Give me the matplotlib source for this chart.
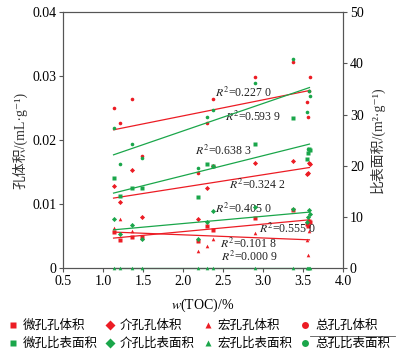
import numpy as np
import matplotlib.pyplot as plt
from matplotlib.lines import Line2D

plt.rcParams['font.family'] = ['Liberation Serif', 'Noto Sans CJK SC', 'DejaVu Serif']
plt.rcParams['mathtext.fontset'] = 'stix'

nan = np.nan

# TOC of the samples, %
toc = [1.13, 1.21, 1.36, 1.49, 2.18, 2.30, 2.37, 2.90, 3.37, 3.55, 3.56, 3.57, 3.59]

# pore volume, mL/g
micro_pv = [0.0056, 0.0044, 0.0049, 0.0049, 0.0043, 0.0066, 0.0060, 0.0078, 0.0091, 0.0069, 0.0066, 0.0074, 0.0072]
meso_pv = [0.0129, 0.0104, 0.0153, 0.0080, 0.0077, 0.0125, 0.0159, 0.0164, 0.0168, 0.0147, 0.0149, 0.0164, 0.0163]
macro_pv = [0.0062, 0.0076, 0.0058, 0.0047, 0.0026, 0.0034, 0.0045, 0.0055, nan, 0.0044, 0.0021, 0.0058, nan]
total_pv = [0.0250, 0.0227, 0.0264, 0.0175, 0.0148, 0.0227, 0.0265, 0.0299, 0.0322, 0.0260, 0.0236, 0.0276, 0.0299]

# specific surface area, m2/g
micro_ssa = [17.6, 14.0, 15.6, 15.7, 13.9, 20.3, 20.0, 24.2, 29.3, 21.4, 22.5, 23.3, 23.0]
meso_ssa = [9.6, 6.6, 8.5, 5.7, 5.7, 9.1, 11.2, 11.9, 11.6, 9.1, 10.0, 11.3, 10.6]
macro_ssa = [0, 0, 0, 0, 0, 0, 0, 0, 0, 0, 0, 0, 0]
total_ssa = [27.3, 20.4, 24.2, 21.5, 19.5, 29.6, 30.8, 36.1, 40.9, 30.5, 23.3, 34.5, 33.6]

# linear trends: slope, intercept
pv_trend_slope = [0.001167, 0.001951, -0.000494, 0.002506]
pv_trend_icpt = [0.003371, 0.008735, 0.006188, 0.01878]
ssa_trend_slope = [3.906, 1.412, 0.0, 5.363]
ssa_trend_icpt = [10.24, 5.884, 0.0, 16.07]
trend_x = [1.13, 3.58]

r2_labels = ['0.227 0', '0.593 9', '0.638 3', '0.324 2', '0.405 0', '0.555 0', '0.101 8', '0.000 9']
r2_x = [2.40, 2.52, 2.15, 2.57, 2.40, 2.95, 2.46, 2.48]
r2_y = [0.0274, 0.0236, 0.0184, 0.01295, 0.0093, 0.0062, 0.0038, 0.0018]

red = '#ec1c24'
green = '#1aa64a'
markers = ['s', 'D', '^', 'o']
pv_series = [micro_pv, meso_pv, macro_pv, total_pv]
ssa_series = [micro_ssa, meso_ssa, macro_ssa, total_ssa]

fig = plt.figure(figsize=(4.05, 3.57), dpi=100)
ax = fig.add_axes([0.156, 0.249, 0.691, 0.717])
ax2 = ax.twinx()

xs = np.array(trend_x)
for vals, m in zip(pv_series, markers):
    ax.plot(toc, vals, ls='none', marker=m, ms=2.6, color=red, mec='none', zorder=3)
for vals, m in zip(ssa_series, markers):
    ax2.plot(toc, vals, ls='none', marker=m, ms=2.6, color=green, mec='none', zorder=3, clip_on=False)
for k, b in zip(pv_trend_slope, pv_trend_icpt):
    ax.plot(xs, k * xs + b, color=red, lw=0.9)
for k, b in zip(ssa_trend_slope, ssa_trend_icpt):
    ax2.plot(xs, k * xs + b, color=green, lw=0.9, clip_on=False)

for lab, x, y in zip(r2_labels, r2_x, r2_y):
    ax.text(x, y, r'$R^2$' + '=' + lab, fontsize=8.5, va='center', ha='left', color='#222222')

ax.set_xlim(0.5, 4.0)
ax.set_ylim(0, 0.04)
ax2.set_ylim(0, 50)
ax.set_xticks(np.arange(0.5, 4.01, 0.5))
ax.set_xticklabels(['0.5', '1.0', '1.5', '2.0', '2.5', '3.0', '3.5', '4.0'])
ax.set_yticks([0, 0.01, 0.02, 0.03, 0.04])
ax.set_yticklabels(['0', '0.01', '0.02', '0.03', '0.04'])
ax2.set_yticks([0, 10, 20, 30, 40, 50])

for a in (ax, ax2):
    for s in a.spines.values():
        s.set_color('#555555')
        s.set_linewidth(0.8)
    a.tick_params(direction='out', length=3, width=0.8, color='#555555', labelsize=10, pad=2)

ax.set_ylabel('孔体积/(mL·g⁻¹)', fontsize=10, labelpad=3, color='#333333')
ax2.set_ylabel('比表面积/(m²·g⁻¹)', fontsize=10, labelpad=4, color='#333333')
ax.set_xlabel(r'$w$(TOC)/%', fontsize=10, labelpad=6)

# legend, 2 rows x 4 columns (matplotlib fills column-wise)
names_pv = ['微孔孔体积', '介孔孔体积', '宏孔孔体积', '总孔孔体积']
names_ssa = ['微孔比表面积', '介孔比表面积', '宏孔比表面积', '总孔比表面积']
handles, labels = [], []
for m, n1, n2 in zip(markers, names_pv, names_ssa):
    handles.append(Line2D([], [], ls='none', marker=m, ms=5, color=red, mec='none'))
    labels.append(n1)
    handles.append(Line2D([], [], ls='none', marker=m, ms=5, color=green, mec='none'))
    labels.append(n2)
fig.legend(handles, labels, ncol=4, loc='upper left', bbox_to_anchor=(0.0, 0.125),
           frameon=False, fontsize=9, handlelength=0.8, handletextpad=0.4,
           columnspacing=0.6, labelspacing=0.45, borderaxespad=0.2)

# stray rule over the last legend entry, as in the source figure
fig.add_artist(Line2D([0.765, 0.975], [0.058, 0.058], color='#555555', lw=0.6))

fig.savefig('out.png', dpi=100)
